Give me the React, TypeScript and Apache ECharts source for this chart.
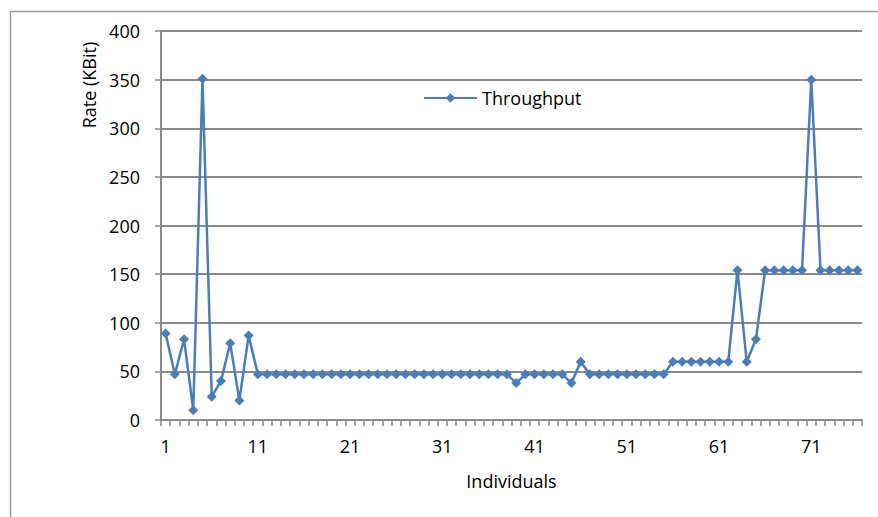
import React, { useEffect, useRef } from "react";
import * as echarts from "echarts";

// Individuals 1..76 along the x axis
const categories: string[] = [
  "1", "2", "3", "4", "5", "6", "7", "8", "9", "10",
  "11", "12", "13", "14", "15", "16", "17", "18", "19", "20",
  "21", "22", "23", "24", "25", "26", "27", "28", "29", "30",
  "31", "32", "33", "34", "35", "36", "37", "38", "39", "40",
  "41", "42", "43", "44", "45", "46", "47", "48", "49", "50",
  "51", "52", "53", "54", "55", "56", "57", "58", "59", "60",
  "61", "62", "63", "64", "65", "66", "67", "68", "69", "70",
  "71", "72", "73", "74", "75", "76",
];

// Throughput rate in KBit per individual
const throughput: number[] = [
  89, 47, 83, 10, 351, 24, 40, 79, 20, 87,
  47, 47, 47, 47, 47, 47, 47, 47, 47, 47,
  47, 47, 47, 47, 47, 47, 47, 47, 47, 47,
  47, 47, 47, 47, 47, 47, 47, 47, 38, 47,
  47, 47, 47, 47, 38, 60, 47, 47, 47, 47,
  47, 47, 47, 47, 47, 60, 60, 60, 60, 60,
  60, 60, 154, 60, 83, 154, 154, 154, 154, 154,
  350, 154, 154, 154, 154, 154,
];

const seriesName = "Throughput";
const xTitle = "Individuals";
const yTitle = "Rate (KBit)";

const FONT = "'Open Sans', sans-serif";
const GRAY = "#8a8a8a";
const BLUE = "#4a7ebb";

export default function App() {
  const ref = useRef<HTMLDivElement>(null);

  useEffect(() => {
    if (!ref.current) return;
    const chart = echarts.init(ref.current, null, { renderer: "svg" });
    chart.setOption({
      animation: false,
      backgroundColor: "#ffffff",
      grid: { left: 161, top: 31, right: 16, bottom: 97, containLabel: false },
      legend: {
        data: [seriesName],
        left: 423,
        top: 89,
        padding: 0,
        itemWidth: 53,
        itemHeight: 12,
        itemGap: 5,
        textStyle: { fontFamily: FONT, fontSize: 18, color: "#000" },
      },
      xAxis: {
        type: "category",
        data: categories,
        boundaryGap: true,
        name: xTitle,
        nameLocation: "middle",
        nameGap: 52,
        nameTextStyle: { fontFamily: FONT, fontSize: 18, color: "#000" },
        axisLine: { lineStyle: { color: GRAY, width: 2 } },
        axisTick: { show: true, interval: 0, length: 6, lineStyle: { color: GRAY, width: 1.5 } },
        axisLabel: {
          interval: 9,
          margin: 17,
          fontFamily: FONT,
          fontSize: 18,
          color: "#000",
        },
        splitLine: { show: false },
      },
      yAxis: {
        type: "value",
        min: 0,
        max: 400,
        interval: 50,
        axisLine: { show: true, lineStyle: { color: GRAY, width: 2 } },
        axisTick: { show: true, length: 6, lineStyle: { color: GRAY, width: 1.5 } },
        axisLabel: { margin: 21, fontFamily: FONT, fontSize: 18, color: "#000" },
        splitLine: { show: true, lineStyle: { color: GRAY, width: 2 } },
      },
      graphic: [
        {
          type: "rect",
          shape: { x: 10.5, y: 11.5, width: 1000, height: 1000 },
          style: { fill: "none", stroke: "#9a9a9a", lineWidth: 1.5 },
          silent: true,
        },
        {
          type: "text",
          x: 89,
          y: 85,
          rotation: Math.PI / 2,
          style: {
            text: yTitle,
            fontFamily: FONT,
            fontSize: 18,
            fill: "#000",
            align: "center",
            verticalAlign: "middle",
          },
        },
      ],
      series: [
        {
          name: seriesName,
          type: "line",
          data: throughput,
          symbol: "diamond",
          symbolSize: 10,
          showAllSymbol: true,
          lineStyle: { color: BLUE, width: 2.5 },
          itemStyle: { color: BLUE },
        },
      ],
    });
    return () => chart.dispose();
  }, []);

  return (
    <div
      ref={ref}
      style={{ position: "fixed", left: 0, top: 0, width: 878, height: 517, background: "#fff" }}
    />
  );
}
